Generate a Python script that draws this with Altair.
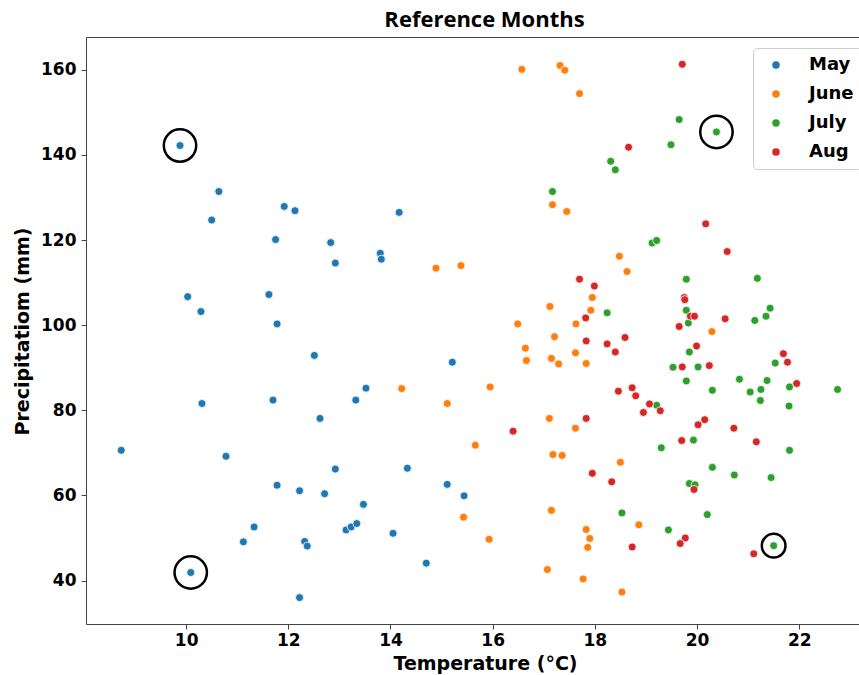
import altair as alt
import pandas as pd

months = ["May", "June", "July", "Aug"]
colors = ["#1f77b4", "#ff7f0e", "#2ca02c", "#d62728"]

may_t = [9.88, 10.64, 10.50, 11.92, 12.13, 11.75, 12.83, 12.92, 10.03, 10.29, 11.62, 11.78,
         14.17, 13.80, 13.82, 15.21, 12.51, 13.52, 13.32, 10.31, 11.70, 12.62, 8.73, 10.78,
         14.33, 12.92, 15.11, 11.78, 12.22, 12.71, 15.44, 13.47, 11.33, 13.13, 13.23, 13.34,
         14.05, 11.12, 12.32, 12.37, 14.70, 10.09, 12.22]
may_p = [142.2, 131.4, 124.7, 127.9, 126.9, 120.1, 119.4, 114.6, 106.7, 103.2, 107.2, 100.3,
         126.5, 116.9, 115.5, 91.3, 92.9, 85.2, 82.4, 81.6, 82.4, 78.1, 70.6, 69.2,
         66.4, 66.2, 62.6, 62.4, 61.1, 60.4, 59.9, 57.9, 52.6, 51.9, 52.6, 53.4,
         51.1, 49.1, 49.2, 48.1, 44.1, 41.9, 36.0]

june_t = [16.57, 17.32, 17.41, 17.70, 17.17, 17.45, 14.89, 15.38, 17.95, 17.12, 17.92, 16.49,
          17.63, 17.21, 16.64, 17.62, 16.66, 17.15, 17.29, 17.83, 14.22, 15.95, 15.11, 17.11,
          17.62, 15.66, 17.18, 17.36, 15.43, 17.15, 17.83, 17.90, 17.86, 15.93, 17.07, 17.77,
          18.48, 18.63, 20.29, 18.50, 18.86, 18.53]
june_p = [160.1, 161.0, 159.9, 154.4, 128.3, 126.7, 113.4, 114.0, 106.5, 104.4, 103.5, 100.3,
          100.3, 97.3, 94.6, 93.5, 91.7, 92.2, 90.9, 91.0, 85.1, 85.5, 81.6, 78.1,
          75.8, 71.8, 69.6, 69.4, 54.9, 56.5, 52.0, 49.9, 47.8, 49.7, 42.6, 40.4,
          116.2, 112.6, 98.5, 67.8, 53.1, 37.3]

july_t = [17.17, 19.65, 20.38, 19.49, 18.31, 18.40, 19.12, 19.21, 19.79, 21.18, 18.24, 19.79,
          21.43, 21.35, 21.13, 19.83, 19.85, 21.53, 19.53, 20.02, 19.79, 20.83, 21.37, 21.25,
          21.04, 21.24, 20.30, 21.81, 22.75, 21.80, 19.21, 19.93, 21.81, 19.30, 20.30, 20.73,
          21.45, 19.85, 19.96, 18.53, 20.20, 19.44, 21.50]
july_p = [131.4, 148.3, 145.4, 142.4, 138.5, 136.5, 119.3, 119.9, 110.8, 111.0, 102.9, 103.5,
          104.0, 102.1, 101.1, 100.5, 93.7, 91.1, 90.1, 90.2, 86.9, 87.3, 87.0, 84.9,
          84.3, 82.3, 84.7, 85.5, 84.9, 81.0, 81.2, 73.0, 70.6, 71.2, 66.6, 64.8,
          64.2, 62.8, 62.5, 55.9, 55.5, 51.9, 48.2]

aug_t = [19.71, 18.66, 20.17, 20.59, 17.70, 17.99, 17.82, 17.83, 17.83, 16.40, 17.95, 19.75,
         19.76, 19.87, 19.95, 20.55, 19.65, 18.24, 18.59, 18.40, 19.99, 21.69, 21.77, 19.71,
         20.24, 21.95, 18.46, 18.73, 18.80, 19.07, 18.95, 19.28, 20.15, 20.02, 20.72, 19.70,
         21.16, 18.33, 19.94, 19.77, 19.67, 18.73, 21.11]
aug_p = [161.3, 141.8, 123.8, 117.3, 110.8, 109.2, 101.7, 96.3, 78.1, 75.1, 65.2, 106.5,
         106.0, 102.1, 102.1, 101.5, 99.7, 95.6, 97.1, 93.7, 95.1, 93.3, 91.3, 90.2,
         90.5, 86.3, 84.5, 85.3, 83.4, 81.5, 79.5, 79.9, 77.8, 76.6, 75.8, 72.9,
         72.6, 63.2, 61.4, 50.0, 48.7, 47.9, 46.3]

# highlighted (circled) points
ring_big_t = [9.88, 10.09, 20.38]
ring_big_p = [142.2, 41.9, 145.4]
ring_small_t = [21.50]
ring_small_p = [48.2]

x_ticks = [10, 12, 14, 16, 18, 20, 22]
y_ticks = [40, 60, 80, 100, 120, 140, 160]

rows = []
for m, ts, ps in zip(months, [may_t, june_t, july_t, aug_t], [may_p, june_p, july_p, aug_p]):
    for t, p in zip(ts, ps):
        rows.append({"Month": m, "T": t, "P": p})
df = pd.DataFrame(rows)
rb = pd.DataFrame({"T": ring_big_t, "P": ring_big_p})
rs = pd.DataFrame({"T": ring_small_t, "P": ring_small_p})

FONT = "DejaVu Sans"
xscale = alt.Scale(domain=[8.04, 23.17], nice=False, zero=False)
yscale = alt.Scale(domain=[29.8, 167.7], nice=False, zero=False)

xaxis = alt.Axis(values=x_ticks, title="Temperature (°C)", grid=False, domain=False,
                 tickSize=5, tickColor="#444", labelPadding=3,
                 labelFont=FONT, labelFontSize=17, labelFontWeight="bold", labelColor="black",
                 titleFont=FONT, titleFontSize=19, titleFontWeight="bold", titleColor="black",
                 titleX=399, titleY=49, titleBaseline="bottom", titleAlign="center")
yaxis = alt.Axis(values=y_ticks, title="Precipitatiom (mm)", grid=False, domain=False,
                 tickSize=5, tickColor="#444", labelPadding=5,
                 labelFont=FONT, labelFontSize=17, labelFontWeight="bold", labelColor="black",
                 titleFont=FONT, titleFontSize=19, titleFontWeight="bold", titleColor="black",
                 titleAngle=270, titleX=-54, titleY=294, titleBaseline="bottom",
                 titleAlign="center")

points = alt.Chart(df).mark_circle(size=64, opacity=1, stroke="white", strokeWidth=0.8).encode(
    x=alt.X("T:Q", scale=xscale, axis=xaxis),
    y=alt.Y("P:Q", scale=yscale, axis=yaxis),
    color=alt.Color("Month:N", sort=months,
                    scale=alt.Scale(domain=months, range=colors),
                    legend=alt.Legend(title=None, orient="none", legendX=667, legendY=11,
                                      fillColor="white", strokeColor="#cccccc",
                                      cornerRadius=4, padding=8, symbolType="circle",
                                      symbolSize=56, symbolOffset=6, symbolStrokeWidth=0,
                                      labelOffset=24, rowPadding=11,
                                      labelFont=FONT, labelFontSize=18,
                                      labelFontWeight="bold", labelColor="black")),
)

rings_big = alt.Chart(rb).mark_point(shape="circle", size=1050, filled=False,
                                      color="black", strokeWidth=2.5, opacity=1).encode(
    x=alt.X("T:Q", scale=xscale), y=alt.Y("P:Q", scale=yscale))
rings_small = alt.Chart(rs).mark_point(shape="circle", size=560, filled=False,
                                        color="black", strokeWidth=2.5, opacity=1).encode(
    x=alt.X("T:Q", scale=xscale), y=alt.Y("P:Q", scale=yscale))

chart = alt.layer(points, rings_big, rings_small).properties(
    width=773, height=587,
    title=alt.TitleParams("Reference Months", font="Open Sans", fontSize=22,
                          fontWeight="bold", color="black", anchor="middle",
                          frame="group", dx=12, dy=22, offset=5, baseline="bottom"),
    autosize=alt.AutoSizeParams(type="none"),
    padding={"left": 86, "top": 37, "right": 0, "bottom": 51},
).configure_view(stroke="#444", strokeWidth=1)

chart.save("out.html", embed_options={"renderer": "svg", "actions": False})
